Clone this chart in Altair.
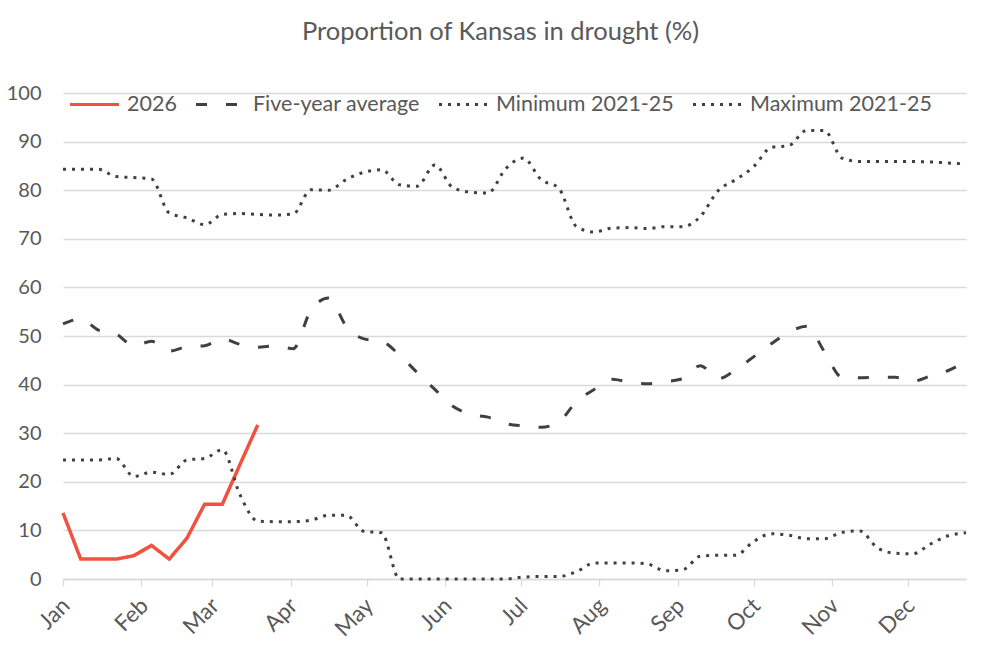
import altair as alt
import pandas as pd

# ---- data ----
weeks = [d.strftime("%Y-%m-%d") for d in pd.date_range("2026-01-01", periods=52, freq="7D")]

series_names = ["2026", "Five-year average", "Minimum 2021-25", "Maximum 2021-25"]

current_2026 = [13.6, 4.1, 4.1, 4.1, 4.8, 6.9, 4.1, 8.4, 15.4, 15.4, 23.6, 31.7]

five_year_avg = [52.5, 53.5, 51.2, 50.4, 48.0, 48.9, 46.9, 47.8, 48.0, 49.4,
                 48.3, 47.7, 48.0, 47.4, 55.3, 57.8, 52.0, 49.4, 48.9, 46.1,
                 42.5, 39.0, 35.6, 33.9, 33.3, 32.0, 31.5, 31.2, 32.3, 36.5,
                 39.0, 41.1, 40.5, 40.2, 40.6, 41.2, 43.9, 41.2, 43.1, 45.7,
                 48.4, 50.8, 52.0, 46.8, 41.5, 41.4, 41.5, 41.5, 40.7, 41.8,
                 42.9, 44.8]

minimum = [24.5, 24.5, 24.5, 24.8, 21.1, 22.0, 21.5, 24.5, 24.8, 26.6,
           17.3, 11.9, 11.8, 11.8, 12.1, 13.1, 13.1, 9.8, 9.5, 0.0,
           0.0, 0.0, 0.0, 0.0, 0.0, 0.0, 0.4, 0.5, 0.5, 1.5,
           3.3, 3.3, 3.3, 3.1, 1.7, 1.9, 4.7, 4.9, 4.9, 7.7,
           9.3, 9.0, 8.3, 8.3, 9.6, 9.9, 6.4, 5.3, 5.2, 7.2,
           8.9, 9.5]

maximum = [84.3, 84.3, 84.3, 82.8, 82.6, 82.3, 75.3, 74.3, 72.9, 75.0,
           75.2, 75.0, 74.9, 75.1, 80.1, 80.0, 82.2, 83.7, 84.2, 81.1,
           80.8, 85.2, 80.6, 79.6, 79.4, 84.4, 86.6, 82.2, 80.4, 72.5,
           71.4, 72.2, 72.3, 72.1, 72.5, 72.5, 74.6, 79.9, 82.2, 84.8,
           88.8, 89.2, 92.3, 92.3, 86.6, 85.9, 85.9, 85.9, 85.9, 85.8,
           85.6, 85.4]

month_ticks = [f"2026-{m:02d}-01" for m in range(1, 13)]

rows = []
for name, vals in zip(series_names, [current_2026, five_year_avg, minimum, maximum]):
    for d, v in zip(weeks, vals):
        rows.append({"date": d, "value": v, "series": name})
df = pd.DataFrame(rows)

FONT = "Lato"
GRAY_TXT = "#595959"
LINE_GRAY = "#404040"
RED = "#EF5340"

color_scale = alt.Scale(domain=series_names, range=[RED, LINE_GRAY, LINE_GRAY, LINE_GRAY])
dash_scale = alt.Scale(domain=series_names, range=[[1, 0], [11, 19], [3, 6], [3, 6]])

legend = alt.Legend(
    title=None, orient="none", legendX=5, legendY=-15, direction="horizontal",
    symbolType="stroke", symbolSize=2400, symbolStrokeWidth=3.2,
    labelFontSize=21.5, labelFont=FONT, labelColor=GRAY_TXT, labelOffset=6,
    labelLimit=0, columnPadding=12, columns=4,
)

x_enc = alt.X(
    "date:T",
    scale=alt.Scale(type="utc", domain=[weeks[0], weeks[-1]], nice=False),
    axis=alt.Axis(
        title=None, values=month_ticks, format="%b", grid=False,
        labelAngle=-45, labelAlign="right", labelBaseline="top", labelPadding=8,
        labelOffset=-5,
        labelFontSize=22.5, labelFont=FONT, labelColor=GRAY_TXT,
        domainColor="#d9d9d9", domainWidth=1.5, tickColor="#d9d9d9", tickSize=7, tickWidth=1.3,
    ),
)
y_enc = alt.Y(
    "value:Q",
    scale=alt.Scale(domain=[0, 100], nice=False),
    axis=alt.Axis(
        title=None, values=list(range(0, 101, 10)), grid=True, gridColor="#d9d9d9", gridWidth=1.3,
        domain=False, ticks=False, labelPadding=22,
        labelFontSize=20, labelFont=FONT, labelColor=GRAY_TXT,
    ),
)

base = alt.Chart(df).encode(
    x=x_enc,
    y=y_enc,
    color=alt.Color("series:N", scale=color_scale, legend=legend, sort=series_names),
    strokeDash=alt.StrokeDash("series:N", scale=dash_scale, legend=legend, sort=series_names),
)

red_layer = base.transform_filter(alt.datum.series == "2026").mark_line(strokeWidth=3.5, interpolate="linear")
gray_layer = base.transform_filter(alt.datum.series != "2026").mark_line(strokeWidth=3, interpolate="monotone")

chart = alt.layer(red_layer, gray_layer).properties(
    width=903, height=486,
    background="white",
    title=alt.TitleParams("Proportion of Kansas in drought (%)", fontSize=25.5, font=FONT,
                          color=GRAY_TXT, fontWeight="normal", dx=-14, offset=33),
    autosize=alt.AutoSizeParams(type="none"),
    padding={"left": 63, "top": 93, "right": 34, "bottom": 88},
).configure_view(stroke=None)

chart.save("out.html", embed_options={"renderer": "svg", "actions": False})
